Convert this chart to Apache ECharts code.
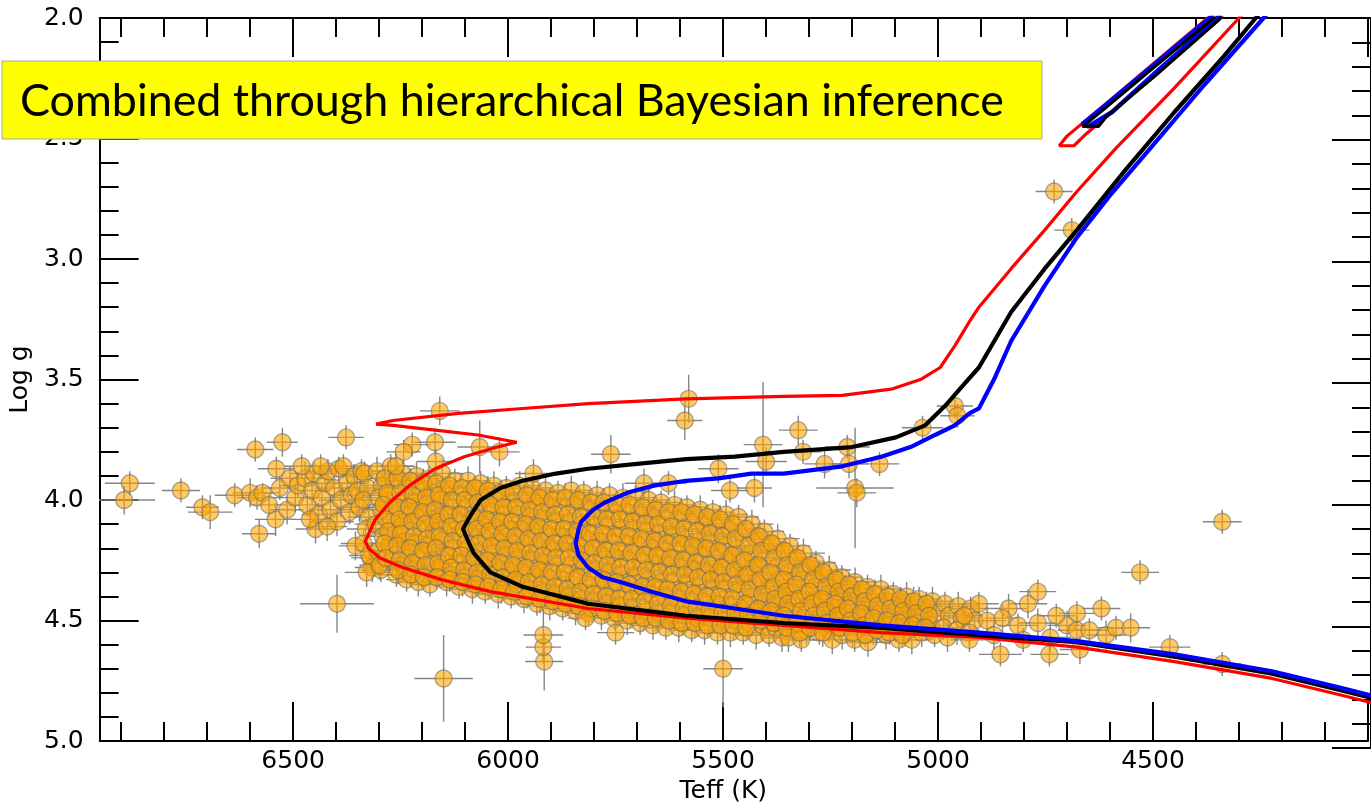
<!DOCTYPE html>
<html><head><meta charset="utf-8">
<script src="https://cdn.jsdelivr.net/npm/echarts@6/dist/echarts.min.js"></script>
<style>html,body{margin:0;padding:0;background:#fff}#c{width:1371px;height:809px}</style>
</head><body><div id="c"></div>
<script>
// ---- axis ticks ----
const teffTickLabels = [4500, 5000, 5500, 6000, 6500];
const loggTickLabels = ['2.0', '2.5', '3.0', '3.5', '4.0', '4.5', '5.0'];
const boxText = 'Combined through hierarchical Bayesian inference';

// ---- stars: [Teff, logg, errTeff, errLogg] ----
const starsSparse = [
[6893,4.00,72,.06],[6880,3.93,58,.05],[6761,3.96,44,.05],[6711,4.03,38,.05],[6693,4.05,52,.07],[6636,3.98,46,.05],[6600,3.97,41,.06],[6584,3.99,47,.05],[6571,3.97,39,.04],[6588,3.79,42,.05],[6579,4.14,40,.06],[6541,4.08,48,.07],[6539,3.87,43,.05],[6525,3.76,36,.06],[6556,4.02,41,.05],[6531,3.95,45,.05],[6514,4.04,39,.06],[6507,3.91,46,.05],
[6495,3.99,52,.06],[6489,3.94,44,.05],[6472,3.91,49,.07],[6467,4.02,43,.05],[6456,3.96,41,.06],[6451,3.89,53,.05],[6448,4.12,46,.06],[6441,4.06,38,.05],[6433,3.99,47,.06],[6426,3.93,51,.04],[6419,3.88,44,.05],[6413,4.04,49,.06],[6404,3.95,45,.05],[6398,4.09,39,.06],[6394,3.87,47,.05],[6389,4.00,52,.07],[6383,3.86,43,.05],[6377,3.74,41,.05],[6374,3.93,46,.06],[6369,4.05,40,.05],[6364,3.98,50,.06],[6358,3.90,44,.05],[6355,4.19,39,.06],[6351,3.96,45,.05],[6346,4.03,49,.06],[6341,3.88,43,.05],[6398,4.43,86,.12],[6461,4.08,45,.05],[6480,3.86,40,.05],[6421,4.11,47,.06],[6436,3.86,42,.05],[6320,4.24,45,.05],[6316,4.28,41,.06],[6296,4.29,46,.05]
];
const starsOutliers = [
[6159,3.63,46,.06],[6223,3.77,43,.05],[6170,3.76,48,.06],[6243,3.80,40,.05],[6261,3.86,45,.06],[6168,3.84,44,.05],[6066,3.78,52,.11],[6020,3.80,47,.06],[5580,3.58,44,.10],[5589,3.67,41,.08],[5761,3.81,46,.08],[5407,3.77,45,.26],[5400,3.84,48,.06],[5941,3.89,43,.06],[5684,3.93,45,.06],[5627,3.93,42,.05],[5511,3.87,47,.06],[5484,3.96,44,.05],[5427,3.95,41,.06],[5325,3.71,45,.06],[5314,3.80,43,.05],[5264,3.85,47,.06],[5211,3.78,52,.05],[5207,3.85,44,.06],[5136,3.85,46,.05],[5193,3.95,90,.25],[5189,3.97,45,.06],[5036,3.70,48,.05],[4961,3.61,42,.05],[4955,3.65,40,.05],[4730,2.72,43,.05],[4689,2.88,41,.05],[4339,4.09,45,.05],
[6150,4.74,68,.18],[5916,4.67,44,.12],[5918,4.61,41,.06],[5918,4.56,46,.12],[5750,4.55,43,.05],[5500,4.70,46,.16],[5820,4.49,42,.05],[4530,4.30,44,.05],[4461,4.61,48,.05],[4339,4.68,45,.05],
[4905,4.43,46,.05],[4886,4.50,44,.06],[4855,4.64,50,.05],[4836,4.45,42,.06],[4814,4.52,47,.05],[4791,4.43,45,.06],[4768,4.38,43,.05],[4739,4.57,48,.06],[4741,4.64,44,.05],[4700,4.52,46,.06],[4677,4.47,41,.05],[4677,4.54,45,.06],[4648,4.54,43,.05],[4670,4.62,47,.06],[4620,4.45,44,.05],[4609,4.56,46,.06],[4586,4.53,42,.05],[4552,4.53,45,.06],[4939,4.48,44,.05],[4870,4.56,47,.06],[4802,4.58,43,.05],[4768,4.51,45,.06],[4927,4.58,46,.05],[4850,4.49,41,.06],[4725,4.48,44,.05]
];
const starsDense = [
[6334,3.89,48,.05],[6326,3.95,52,.06],[6337,4.00,45,.05],[6324,4.07,50,.07],[6331,4.12,44,.05],[6336,4.18,53,.06],[6323,4.23,47,.05],[6329,4.30,51,.06],
[6305,3.88,46,.06],[6294,3.94,51,.05],[6301,3.99,43,.05],[6296,4.04,55,.06],[6308,4.10,49,.05],[6292,4.15,45,.07],[6303,4.21,50,.05],[6299,4.27,47,.06],
[6273,3.86,52,.05],[6265,3.92,44,.06],[6278,3.98,49,.05],[6268,4.03,46,.06],[6271,4.09,53,.05],[6262,4.14,48,.06],[6276,4.19,44,.05],[6269,4.25,51,.06],[6260,4.31,46,.05],
[6246,3.89,47,.05],[6237,3.95,50,.06],[6242,4.00,44,.05],[6234,4.06,52,.06],[6248,4.11,46,.05],[6239,4.17,49,.06],[6231,4.22,45,.05],[6244,4.27,53,.06],[6236,4.33,48,.05],
[6213,3.90,51,.06],[6205,3.95,46,.05],[6216,4.01,49,.06],[6208,4.07,44,.05],[6202,4.12,52,.06],[6214,4.18,47,.05],[6206,4.24,50,.06],[6218,4.29,45,.05],[6209,4.34,48,.06],
[6184,3.91,46,.05],[6176,3.97,52,.06],[6188,4.02,45,.05],[6179,4.08,49,.06],[6172,4.13,47,.05],[6185,4.19,51,.06],[6177,4.25,44,.05],[6170,4.30,50,.06],[6182,4.35,46,.05],
[6153,3.89,49,.06],[6145,3.95,45,.05],[6157,4.00,52,.06],[6149,4.06,47,.05],[6141,4.11,50,.06],[6154,4.17,44,.05],[6146,4.23,51,.06],[6158,4.28,46,.05],[6143,4.34,49,.06],
[6124,3.92,47,.05],[6116,3.98,50,.06],[6127,4.03,45,.05],[6119,4.09,53,.06],[6111,4.14,46,.05],[6126,4.20,49,.06],[6118,4.26,44,.05],[6130,4.31,51,.06],[6114,4.36,47,.05],
[6093,3.92,52,.06],[6085,3.97,46,.05],[6097,4.03,49,.06],[6089,4.09,45,.05],[6081,4.15,51,.06],[6094,4.20,47,.05],[6086,4.26,50,.06],[6099,4.32,44,.05],[6083,4.37,48,.06],
[6064,3.93,46,.05],[6055,3.99,51,.06],[6067,4.05,44,.05],[6058,4.10,50,.06],[6051,4.16,47,.05],[6063,4.22,52,.06],[6057,4.27,45,.05],[6069,4.33,49,.06],[6053,4.38,46,.05],
[6033,3.94,50,.06],[6025,4.00,45,.05],[6036,4.05,52,.06],[6028,4.11,46,.05],[6021,4.17,49,.06],[6034,4.22,44,.05],[6026,4.28,51,.06],[6038,4.34,47,.05],[6023,4.39,50,.06],
[6004,3.95,45,.05],[5995,4.01,51,.06],[6007,4.06,46,.05],[5998,4.12,50,.06],[5991,4.18,44,.05],[6003,4.23,52,.06],[5996,4.29,47,.05],[6008,4.35,49,.06],[5993,4.40,45,.05],
[5973,3.94,51,.06],[5965,4.00,46,.05],[5976,4.06,49,.06],[5968,4.12,44,.05],[5961,4.18,52,.06],[5974,4.24,47,.05],[5966,4.30,50,.06],[5978,4.35,45,.05],[5963,4.41,48,.06],
[5944,3.95,47,.05],[5935,4.01,50,.06],[5947,4.07,45,.05],[5938,4.13,52,.06],[5931,4.19,46,.05],[5943,4.25,49,.06],[5936,4.31,44,.05],[5948,4.37,51,.06],[5933,4.43,47,.05],
[5913,3.96,50,.06],[5905,4.02,45,.05],[5916,4.08,52,.06],[5908,4.14,46,.05],[5901,4.20,49,.06],[5914,4.26,44,.05],[5906,4.32,51,.06],[5918,4.38,47,.05],[5903,4.44,50,.06],
[5884,3.97,46,.05],[5875,4.03,51,.06],[5887,4.09,44,.05],[5878,4.15,50,.06],[5871,4.21,47,.05],[5883,4.27,52,.06],[5876,4.33,45,.05],[5888,4.39,49,.06],[5873,4.45,46,.05],
[5853,3.96,51,.06],[5845,4.02,46,.05],[5856,4.09,49,.06],[5848,4.15,44,.05],[5841,4.21,52,.06],[5854,4.27,47,.05],[5846,4.33,50,.06],[5858,4.40,45,.05],[5843,4.46,48,.06],
[5824,3.97,47,.05],[5815,4.04,50,.06],[5827,4.10,45,.05],[5818,4.16,52,.06],[5811,4.22,46,.05],[5823,4.28,49,.06],[5816,4.35,44,.05],[5828,4.41,51,.06],[5813,4.47,47,.05],
[5793,3.98,50,.06],[5785,4.04,45,.05],[5796,4.11,52,.06],[5788,4.17,46,.05],[5781,4.23,49,.06],[5794,4.29,44,.05],[5786,4.36,51,.06],[5798,4.42,47,.05],[5783,4.48,50,.06],
[5764,3.98,46,.05],[5755,4.05,51,.06],[5767,4.11,44,.05],[5758,4.18,50,.06],[5751,4.24,47,.05],[5763,4.30,52,.06],[5756,4.37,45,.05],[5768,4.43,49,.06],[5753,4.49,46,.05],
[5733,3.99,51,.06],[5725,4.05,46,.05],[5736,4.12,49,.06],[5728,4.18,44,.05],[5721,4.25,52,.06],[5734,4.31,47,.05],[5726,4.38,50,.06],[5738,4.44,45,.05],[5723,4.50,48,.06],
[5704,3.99,47,.05],[5695,4.06,50,.06],[5707,4.12,45,.05],[5698,4.19,52,.06],[5691,4.25,46,.05],[5703,4.32,49,.06],[5696,4.38,44,.05],[5708,4.45,51,.06],[5693,4.51,47,.05],
[5673,4.00,50,.06],[5665,4.07,45,.05],[5676,4.13,52,.06],[5668,4.20,46,.05],[5661,4.26,49,.06],[5674,4.33,44,.05],[5666,4.39,51,.06],[5678,4.46,47,.05],[5663,4.52,50,.06],
[5644,4.01,46,.05],[5635,4.08,51,.06],[5647,4.14,44,.05],[5638,4.21,50,.06],[5631,4.27,47,.05],[5643,4.34,52,.06],[5636,4.40,45,.05],[5648,4.47,49,.06],[5633,4.53,46,.05],
[5613,4.02,51,.06],[5605,4.08,46,.05],[5616,4.15,49,.06],[5608,4.21,44,.05],[5601,4.28,52,.06],[5614,4.34,47,.05],[5606,4.41,50,.06],[5618,4.47,45,.05],[5603,4.53,48,.06],
[5584,4.03,47,.05],[5575,4.09,50,.06],[5587,4.16,45,.05],[5578,4.22,52,.06],[5571,4.29,46,.05],[5583,4.35,49,.06],[5576,4.42,44,.05],[5588,4.48,51,.06],[5573,4.54,47,.05],
[5553,4.04,50,.06],[5545,4.10,45,.05],[5556,4.17,52,.06],[5548,4.23,46,.05],[5541,4.30,49,.06],[5554,4.36,44,.05],[5546,4.42,51,.06],[5558,4.49,47,.05],[5543,4.54,50,.06],
[5524,4.05,46,.05],[5515,4.11,51,.06],[5527,4.18,44,.05],[5518,4.24,50,.06],[5511,4.30,47,.05],[5523,4.37,52,.06],[5516,4.43,45,.05],[5528,4.49,49,.06],[5513,4.55,46,.05],
[5493,4.06,51,.06],[5485,4.12,46,.05],[5496,4.19,49,.06],[5488,4.25,44,.05],[5481,4.31,52,.06],[5494,4.37,47,.05],[5486,4.44,50,.06],[5498,4.50,45,.05],[5483,4.55,48,.06],
[5464,4.07,47,.05],[5455,4.14,50,.06],[5467,4.20,45,.05],[5458,4.26,52,.06],[5451,4.32,46,.05],[5463,4.38,49,.06],[5456,4.45,44,.05],[5468,4.50,51,.06],[5453,4.55,47,.05],
[5433,4.10,50,.06],[5425,4.16,45,.05],[5436,4.22,52,.06],[5428,4.28,46,.05],[5421,4.34,49,.06],[5434,4.40,44,.05],[5426,4.46,51,.06],[5438,4.51,47,.05],[5423,4.56,50,.06],
[5404,4.13,46,.05],[5395,4.19,51,.06],[5407,4.25,44,.05],[5398,4.31,50,.06],[5391,4.37,47,.05],[5403,4.42,52,.06],[5396,4.47,45,.05],[5408,4.52,49,.06],[5393,4.56,46,.05],
[5373,4.16,51,.06],[5365,4.22,46,.05],[5376,4.28,49,.06],[5368,4.33,44,.05],[5361,4.39,52,.06],[5374,4.44,47,.05],[5366,4.49,50,.06],[5378,4.53,45,.05],[5363,4.57,48,.06],
[5344,4.19,47,.05],[5335,4.25,50,.06],[5347,4.30,45,.05],[5338,4.36,52,.06],[5331,4.41,46,.05],[5343,4.46,49,.06],[5336,4.51,44,.05],[5348,4.57,51,.06],
[5313,4.22,50,.06],[5305,4.28,45,.05],[5316,4.33,52,.06],[5308,4.39,46,.05],[5301,4.44,49,.06],[5314,4.49,44,.05],[5306,4.54,51,.06],[5318,4.58,47,.05],
[5284,4.26,46,.05],[5275,4.31,51,.06],[5287,4.36,44,.05],[5278,4.41,50,.06],[5271,4.46,47,.05],[5283,4.51,52,.06],[5276,4.55,45,.05],
[5253,4.29,51,.06],[5245,4.34,46,.05],[5256,4.39,49,.06],[5248,4.44,44,.05],[5241,4.49,52,.06],[5254,4.54,47,.05],[5246,4.58,50,.06],
[5224,4.32,47,.05],[5215,4.37,50,.06],[5227,4.42,45,.05],[5218,4.47,52,.06],[5211,4.52,46,.05],[5223,4.56,49,.06],
[5193,4.34,50,.06],[5185,4.39,45,.05],[5196,4.44,52,.06],[5188,4.49,46,.05],[5181,4.53,49,.06],[5194,4.58,44,.05],
[5164,4.36,46,.05],[5155,4.41,51,.06],[5167,4.46,44,.05],[5158,4.51,50,.06],[5151,4.55,47,.05],[5163,4.59,52,.06],
[5133,4.37,51,.06],[5125,4.42,46,.05],[5136,4.47,49,.06],[5128,4.52,44,.05],[5121,4.56,52,.06],
[5104,4.39,47,.05],[5095,4.44,50,.06],[5107,4.49,45,.05],[5098,4.53,52,.06],[5091,4.58,46,.05],
[5073,4.40,50,.06],[5065,4.45,45,.05],[5076,4.50,52,.06],[5068,4.54,46,.05],[5061,4.58,49,.06],
[5044,4.41,46,.05],[5035,4.46,51,.06],[5047,4.51,44,.05],[5038,4.55,50,.06],
[5013,4.42,51,.06],[5005,4.47,46,.05],[5016,4.52,49,.06],[5008,4.56,44,.05],
[4984,4.43,47,.05],[4975,4.48,50,.06],[4987,4.53,45,.05],[4978,4.57,52,.06],
[4953,4.44,50,.06],[4945,4.49,45,.05],[4956,4.54,52,.06],
[4924,4.45,46,.05],[4915,4.50,51,.06],[4927,4.55,44,.05]
];
const starsCore = [
[6287,3.91,44,.05],[6281,3.97,48,.05],[6290,4.02,42,.06],[6283,4.08,47,.05],[6279,4.13,45,.05],[6288,4.18,49,.06],[6284,4.24,43,.05],
[6257,3.91,46,.05],[6251,3.97,42,.06],[6259,4.03,48,.05],[6253,4.08,44,.05],[6249,4.14,47,.06],[6258,4.19,43,.05],[6252,4.25,46,.05],[6256,4.29,41,.06],
[6227,3.92,45,.05],[6221,3.98,49,.05],[6230,4.03,43,.06],[6223,4.09,46,.05],[6219,4.15,44,.05],[6228,4.20,48,.06],[6222,4.26,42,.05],[6226,4.31,47,.05],
[6197,3.93,43,.06],[6191,3.99,47,.05],[6199,4.05,45,.05],[6193,4.10,49,.06],[6189,4.16,42,.05],[6198,4.21,46,.05],[6192,4.27,44,.06],[6196,4.32,48,.05],
[6167,3.93,46,.05],[6161,3.98,42,.05],[6170,4.04,48,.06],[6163,4.09,44,.05],[6159,4.15,47,.05],[6168,4.20,43,.06],[6162,4.26,46,.05],[6166,4.32,41,.05],
[6137,3.94,45,.06],[6131,4.00,49,.05],[6139,4.06,43,.05],[6133,4.11,46,.06],[6129,4.17,44,.05],[6138,4.23,48,.05],[6132,4.28,42,.06],[6136,4.33,47,.05],
[6107,3.95,43,.05],[6101,4.00,47,.06],[6110,4.06,45,.05],[6103,4.12,49,.05],[6099,4.18,42,.06],[6108,4.23,46,.05],[6102,4.29,44,.05],[6106,4.34,48,.06],
[6077,3.95,46,.05],[6071,4.01,42,.05],[6079,4.07,48,.06],[6073,4.12,44,.05],[6069,4.18,47,.05],[6078,4.24,43,.06],[6072,4.30,46,.05],[6076,4.35,41,.05],
[6047,3.96,45,.06],[6041,4.02,49,.05],[6050,4.08,43,.05],[6043,4.13,46,.06],[6039,4.19,44,.05],[6048,4.25,48,.05],[6042,4.31,42,.06],[6046,4.36,47,.05],
[6017,3.97,43,.05],[6011,4.03,47,.06],[6019,4.09,45,.05],[6013,4.14,49,.05],[6009,4.20,42,.06],[6018,4.26,46,.05],[6012,4.32,44,.05],[6016,4.37,48,.06],
[5987,3.97,46,.05],[5981,4.03,42,.05],[5990,4.09,48,.06],[5983,4.15,44,.05],[5979,4.21,47,.05],[5988,4.27,43,.06],[5982,4.33,46,.05],[5986,4.38,41,.05],
[5957,3.98,45,.06],[5951,4.04,49,.05],[5959,4.10,43,.05],[5953,4.16,46,.06],[5949,4.22,44,.05],[5958,4.28,48,.05],[5952,4.34,42,.06],[5956,4.40,47,.05],
[5927,3.99,43,.05],[5921,4.05,47,.06],[5930,4.11,45,.05],[5923,4.17,49,.05],[5919,4.23,42,.06],[5928,4.29,46,.05],[5922,4.35,44,.05],[5926,4.41,48,.06],
[5897,4.00,46,.05],[5891,4.06,42,.05],[5899,4.12,48,.06],[5893,4.18,44,.05],[5889,4.24,47,.05],[5898,4.30,43,.06],[5892,4.36,46,.05],[5896,4.42,41,.05],
[5867,3.99,45,.06],[5861,4.06,49,.05],[5870,4.12,43,.05],[5863,4.18,46,.06],[5859,4.24,44,.05],[5868,4.30,48,.05],[5862,4.37,42,.06],[5866,4.43,47,.05],
[5837,4.00,43,.05],[5831,4.07,47,.06],[5839,4.13,45,.05],[5833,4.19,49,.05],[5829,4.25,42,.06],[5838,4.32,46,.05],[5832,4.38,44,.05],[5836,4.44,48,.06],
[5807,4.01,46,.05],[5801,4.07,42,.05],[5810,4.14,48,.06],[5803,4.20,44,.05],[5799,4.26,47,.05],[5808,4.33,43,.06],[5802,4.39,46,.05],[5806,4.45,41,.05],
[5777,4.01,45,.06],[5771,4.08,49,.05],[5779,4.14,43,.05],[5773,4.21,46,.06],[5769,4.27,44,.05],[5778,4.33,48,.05],[5772,4.40,42,.06],[5776,4.46,47,.05],
[5747,4.02,43,.05],[5741,4.08,47,.06],[5750,4.15,45,.05],[5743,4.21,49,.05],[5739,4.28,42,.06],[5748,4.34,46,.05],[5742,4.41,44,.05],[5746,4.47,48,.06],
[5717,4.02,46,.05],[5711,4.09,42,.05],[5719,4.15,48,.06],[5713,4.22,44,.05],[5709,4.28,47,.05],[5718,4.35,43,.06],[5712,4.41,46,.05],[5716,4.48,41,.05],
[5687,4.03,45,.06],[5681,4.10,49,.05],[5690,4.16,43,.05],[5683,4.23,46,.06],[5679,4.29,44,.05],[5688,4.36,48,.05],[5682,4.42,42,.06],[5686,4.49,47,.05],
[5657,4.04,43,.05],[5651,4.10,47,.06],[5659,4.17,45,.05],[5653,4.23,49,.05],[5649,4.30,42,.06],[5658,4.36,46,.05],[5652,4.43,44,.05],[5656,4.49,48,.06],
[5627,4.05,46,.05],[5621,4.11,42,.05],[5630,4.18,48,.06],[5623,4.24,44,.05],[5619,4.31,47,.05],[5628,4.37,43,.06],[5622,4.44,46,.05],[5626,4.50,41,.05],
[5597,4.05,45,.06],[5591,4.12,49,.05],[5599,4.18,43,.05],[5593,4.25,46,.06],[5589,4.31,44,.05],[5598,4.38,48,.05],[5592,4.45,42,.06],[5596,4.51,47,.05],
[5567,4.06,43,.05],[5561,4.13,47,.06],[5570,4.19,45,.05],[5563,4.26,49,.05],[5559,4.32,42,.06],[5568,4.39,46,.05],[5562,4.45,44,.05],[5566,4.51,48,.06],
[5537,4.07,46,.05],[5531,4.14,42,.05],[5539,4.20,48,.06],[5533,4.27,44,.05],[5529,4.33,47,.05],[5538,4.40,43,.06],[5532,4.46,46,.05],[5536,4.52,41,.05],
[5507,4.08,45,.06],[5501,4.15,49,.05],[5510,4.21,43,.05],[5503,4.28,46,.06],[5499,4.34,44,.05],[5508,4.40,48,.05],[5502,4.47,42,.06],[5506,4.52,47,.05],
[5477,4.10,43,.05],[5471,4.16,47,.06],[5479,4.23,45,.05],[5473,4.29,49,.05],[5469,4.35,42,.06],[5478,4.41,46,.05],[5472,4.47,44,.05],[5476,4.52,48,.06],
[5447,4.12,46,.05],[5441,4.19,42,.05],[5450,4.25,48,.06],[5443,4.31,44,.05],[5439,4.37,47,.05],[5448,4.43,43,.06],[5442,4.48,46,.05],[5446,4.53,41,.05],
[5417,4.15,45,.06],[5411,4.21,49,.05],[5419,4.27,43,.05],[5413,4.33,46,.06],[5409,4.39,44,.05],[5418,4.45,48,.05],[5412,4.50,42,.06],
[5387,4.18,43,.05],[5381,4.24,47,.06],[5390,4.30,45,.05],[5383,4.36,49,.05],[5379,4.41,42,.06],[5388,4.46,46,.05],[5382,4.51,44,.05],
[5357,4.21,46,.05],[5351,4.27,42,.05],[5359,4.33,48,.06],[5353,4.38,44,.05],[5349,4.43,47,.05],[5358,4.48,43,.06],[5352,4.53,46,.05],
[5327,4.24,45,.06],[5321,4.30,49,.05],[5330,4.35,43,.05],[5323,4.41,46,.06],[5319,4.46,44,.05],[5328,4.51,48,.05],[5322,4.55,42,.06],
[5297,4.27,43,.05],[5291,4.33,47,.06],[5299,4.38,45,.05],[5293,4.43,49,.05],[5289,4.48,42,.06],[5298,4.53,46,.05],
[5267,4.30,46,.05],[5261,4.36,42,.05],[5270,4.41,48,.06],[5263,4.46,44,.05],[5259,4.51,47,.05],[5268,4.55,43,.06],
[5237,4.33,45,.06],[5231,4.38,49,.05],[5239,4.43,43,.05],[5233,4.48,46,.06],[5229,4.53,44,.05],
[5207,4.35,43,.05],[5201,4.40,47,.06],[5210,4.45,45,.05],[5203,4.50,49,.05],[5199,4.55,42,.06],
[5177,4.37,46,.05],[5171,4.42,42,.05],[5179,4.47,48,.06],[5173,4.52,44,.05],[5169,4.56,47,.05],
[5147,4.39,45,.06],[5141,4.44,49,.05],[5150,4.49,43,.05],[5143,4.54,46,.06],
[5117,4.40,43,.05],[5111,4.45,47,.06],[5119,4.50,45,.05],[5113,4.55,49,.05],
[5087,4.41,46,.05],[5081,4.46,42,.05],[5090,4.51,48,.06],[5083,4.56,44,.05],
[5057,4.42,45,.06],[5051,4.47,49,.05],[5059,4.52,43,.05],
[5027,4.43,43,.05],[5021,4.48,47,.06],[5030,4.53,45,.05]
];

// ---- isochrone tracks: [Teff, logg] ----
const redTrack = [[3950,4.86],[4061,4.81],[4223,4.74],[4450,4.67],[4677,4.61],[4905,4.57],[5132,4.55],[5359,4.52],[5586,4.49],[5814,4.45],[6041,4.38],[6155,4.33],[6245,4.28],[6298,4.24],[6325,4.20],[6332,4.17],[6309,4.08],[6275,4.01],[6230,3.94],[6170,3.87],[6102,3.82],[6025,3.78],[5980,3.76],[6070,3.73],[6170,3.71],[6268,3.69],[6307,3.685],[6268,3.67],[6116,3.64],[5966,3.62],[5814,3.60],[5586,3.58],[5359,3.57],[5223,3.566],[5109,3.54],[5041,3.50],[4995,3.45],[4961,3.36],[4927,3.26],[4905,3.20],[4830,3.04],[4752,2.88],[4677,2.72],[4586,2.54],[4450,2.29],[4300,2.00],[4257,1.92]];
const redLoop = [[4309,1.905],[4343,2.00],[4450,2.16],[4564,2.34],[4655,2.48],[4684,2.53],[4718,2.53],[4700,2.49],[4586,2.32],[4473,2.15],[4373,2.00],[4336,1.91]];
const blackTrack = [[3950,4.84],[4061,4.79],[4223,4.72],[4450,4.65],[4677,4.59],[4905,4.56],[5132,4.53],[5359,4.51],[5586,4.48],[5814,4.43],[5966,4.36],[6041,4.30],[6080,4.22],[6093,4.17],[6105,4.12],[6086,4.06],[6064,4.00],[6018,3.95],[5966,3.92],[5889,3.89],[5814,3.87],[5700,3.85],[5586,3.83],[5473,3.82],[5359,3.80],[5200,3.78],[5098,3.74],[5030,3.69],[4984,3.61],[4945,3.53],[4905,3.45],[4830,3.22],[4752,3.04],[4677,2.88],[4564,2.63],[4450,2.39],[4336,2.16],[4261,2.00],[4223,1.92]];
const blackLoop = [[4318,1.905],[4359,2.00],[4495,2.20],[4609,2.37],[4650,2.43],[4664,2.45],[4627,2.45],[4609,2.41],[4495,2.24],[4348,2.01],[4302,1.905]];
const blueTrack = [[3950,4.83],[4061,4.78],[4223,4.71],[4450,4.64],[4677,4.585],[4905,4.55],[5132,4.52],[5359,4.48],[5473,4.45],[5586,4.42],[5666,4.38],[5739,4.34],[5780,4.32],[5814,4.28],[5836,4.23],[5843,4.18],[5836,4.12],[5830,4.09],[5802,4.04],[5775,4.01],[5723,3.97],[5661,3.94],[5586,3.92],[5511,3.91],[5434,3.89],[5359,3.89],[5223,3.86],[5132,3.82],[5064,3.78],[5007,3.73],[4961,3.69],[4927,3.64],[4905,3.62],[4870,3.50],[4830,3.34],[4752,3.11],[4677,2.91],[4602,2.74],[4511,2.55],[4382,2.28],[4243,2.00],[4205,1.92]];
const blueLoop = [[4325,1.905],[4368,2.00],[4495,2.19],[4609,2.36],[4664,2.44],[4650,2.45],[4595,2.39],[4484,2.21],[4350,2.00],[4309,1.905]];

const stars = starsSparse.concat(starsDense, starsCore, starsOutliers);

const chart = echarts.init(document.getElementById('c'), null, {renderer: 'canvas'});
const FONT = 'DejaVu Sans';
const axisCol = '#000';
const tickStyle = {color: axisCol, width: 2};

function teffFmt(v) { return teffTickLabels.indexOf(v) >= 0 ? String(v) : ''; }

const mc = document.createElement('canvas').getContext('2d');
mc.font = '45px Lato';
const boxScale = 984 / mc.measureText(boxText).width;

const option = {
  animation: false,
  backgroundColor: '#fff',
  grid: [
    {left: 99, right: -27, top: 18, bottom: 61, containLabel: false},
    {left: 99, right: -5, top: 18, bottom: 61, containLabel: false}
  ],
  xAxis: [
    {gridIndex: 0, type: 'value', position: 'bottom', inverse: true, min: 4000, max: 6950, interval: 500,
     axisLine: {show: true, onZero: false, lineStyle: {color: axisCol, width: 2}},
     axisTick: {show: true, inside: true, length: 39, lineStyle: tickStyle},
     axisLabel: {show: true, formatter: teffFmt, color: '#000', fontSize: 25, fontFamily: FONT, margin: 8},
     splitLine: {show: false},
     name: 'Teff (K)', nameLocation: 'middle', nameGap: 36,
     nameTextStyle: {color: '#000', fontSize: 25, fontFamily: FONT, padding: [0, 21, 0, 0]}},
    {gridIndex: 0, type: 'value', position: 'bottom', inverse: true, min: 4000, max: 6950, interval: 100,
     axisLine: {show: false}, axisTick: {show: true, inside: true, length: 19, lineStyle: tickStyle},
     axisLabel: {show: false}, splitLine: {show: false}},
    {gridIndex: 0, type: 'value', position: 'top', inverse: true, min: 4000, max: 6950, interval: 500,
     axisLine: {show: true, onZero: false, lineStyle: {color: axisCol, width: 2}},
     axisTick: {show: true, inside: true, length: 39, lineStyle: tickStyle},
     axisLabel: {show: false}, splitLine: {show: false}},
    {gridIndex: 0, type: 'value', position: 'top', inverse: true, min: 4000, max: 6950, interval: 100,
     axisLine: {show: false}, axisTick: {show: true, inside: true, length: 19, lineStyle: tickStyle},
     axisLabel: {show: false}, splitLine: {show: false}},
    {gridIndex: 1, type: 'value', show: false, min: 0, max: 1}
  ],
  yAxis: [
    {gridIndex: 0, type: 'value', position: 'left', inverse: true, min: 2, max: 5, interval: 0.5,
     axisLine: {show: true, onZero: false, lineStyle: {color: axisCol, width: 2}},
     axisTick: {show: true, inside: true, length: 39, lineStyle: tickStyle},
     minorTick: {show: true, splitNumber: 5, length: 19, lineStyle: tickStyle},
     axisLabel: {formatter: function (v) { return loggTickLabels[Math.round((v - 2) * 2)] || ''; }, color: '#000', fontSize: 25, fontFamily: FONT, margin: 16},
     splitLine: {show: false}, minorSplitLine: {show: false},
     name: 'Log g', nameLocation: 'middle', nameGap: 58, nameRotate: 90,
     nameTextStyle: {color: '#000', fontSize: 25, fontFamily: FONT}},
    {gridIndex: 1, type: 'value', position: 'right', inverse: true, min: 2, max: 5, interval: 0.5,
     axisLine: {show: true, onZero: false, lineStyle: {color: axisCol, width: 2}},
     axisTick: {show: true, inside: true, length: 39, lineStyle: tickStyle},
     minorTick: {show: true, splitNumber: 5, length: 19, lineStyle: tickStyle},
     axisLabel: {show: false}, splitLine: {show: false}}
  ],
  series: [
    {type: 'custom', xAxisIndex: 0, yAxisIndex: 0, data: stars, clip: true, silent: true, z: 1,
     renderItem: function (params, api) {
       const t = api.value(0), g = api.value(1), et = api.value(2), eg = api.value(3);
       const a = api.coord([t - et, g]), b = api.coord([t + et, g]);
       const c = api.coord([t, g - eg]), d = api.coord([t, g + eg]);
       const st = {stroke: '#858585', lineWidth: 1.4};
       return {type: 'group', children: [
         {type: 'line', shape: {x1: a[0], y1: a[1], x2: b[0], y2: b[1]}, style: st},
         {type: 'line', shape: {x1: c[0], y1: c[1], x2: d[0], y2: d[1]}, style: st}
       ]};
     }},
    {type: 'scatter', xAxisIndex: 0, yAxisIndex: 0, data: stars, symbol: 'circle', symbolSize: 17, silent: true, z: 2,
     itemStyle: {color: 'rgba(255,165,0,0.75)', borderColor: 'rgba(110,110,110,0.72)', borderWidth: 1.4}},
    {type: 'line', data: redTrack, symbol: 'none', silent: true, z: 3, lineStyle: {color: '#ff0000', width: 3.2}},
    {type: 'line', data: redLoop, symbol: 'none', silent: true, z: 3, lineStyle: {color: '#ff0000', width: 3.2}},
    {type: 'line', data: blackTrack, symbol: 'none', silent: true, z: 4, lineStyle: {color: '#000000', width: 4.2}},
    {type: 'line', data: blueLoop, symbol: 'none', silent: true, z: 4, lineStyle: {color: '#0000ff', width: 4.5}},
    {type: 'line', data: blackLoop, symbol: 'none', silent: true, z: 4, lineStyle: {color: '#000000', width: 3.2}},
    {type: 'line', data: blueTrack, symbol: 'none', silent: true, z: 5, lineStyle: {color: '#0000ff', width: 4.2}}
  ],
  graphic: [
    {type: 'rect', z: 100, shape: {x: 2, y: 61, width: 1040, height: 78},
     style: {fill: '#ffff00', stroke: '#a8a8a8', lineWidth: 1}},
    {type: 'text', z: 101, x: 20, y: 101, scaleX: boxScale,
     style: {text: boxText, fontSize: 45, fontFamily: 'Lato', fill: '#000', verticalAlign: 'middle', align: 'left'}}
  ]
};
chart.setOption(option);
</script>
</body></html>
